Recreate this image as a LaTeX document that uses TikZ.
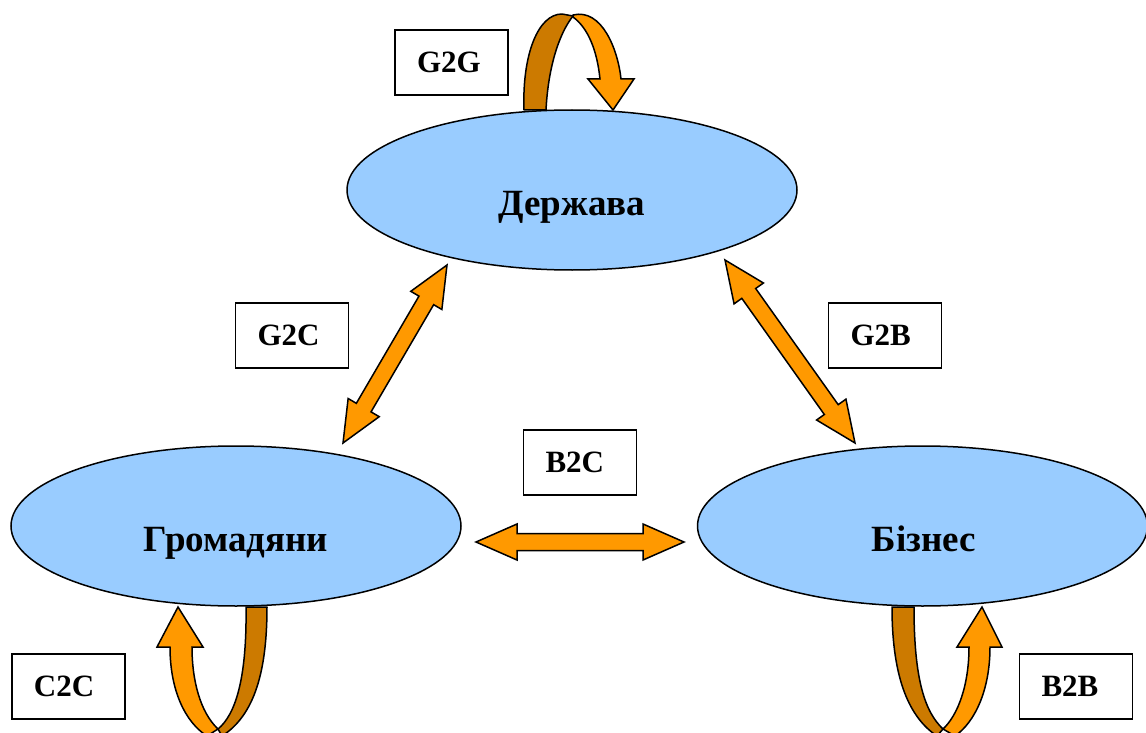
\documentclass[tikz,border=0pt]{standalone}
\usepackage{fontspec}
\setmainfont{Liberation Serif}
\usetikzlibrary{shapes.geometric,calc}
\definecolor{ellfill}{HTML}{99CCFF}
\definecolor{arrlight}{HTML}{FF9900}
\definecolor{arrdark}{HTML}{CC7A00}
\tikzset{
  ell/.style={ellipse, draw, fill=ellfill, line width=1.5pt, minimum width=450pt, minimum height=160pt, inner sep=0pt},
  etxt/.style={font=\fontsize{37}{41}\selectfont\bfseries, inner sep=0pt},
  lbox/.style={draw, fill=white, line width=1.7pt, minimum width=113pt, minimum height=65pt, inner sep=0pt, font=\fontsize{31}{34}\selectfont\bfseries},
  fatarrow/.style={draw, fill=arrlight, line width=1.5pt, line join=miter},
  loopdark/.style={draw, fill=arrdark, line width=1.5pt, line join=round},
  looplight/.style={draw, fill=arrlight, line width=1.5pt, line join=miter}
}
\newcommand\fatdbl[2]{%
  \coordinate (#1-#2-h1) at ($(#1)!41pt!(#2)$);
  \coordinate (#1-#2-h2) at ($(#2)!41pt!(#1)$);
  \draw[fatarrow] (#1)
    -- ($(#1-#2-h1)!18pt!90:(#2)$) -- ($(#1-#2-h1)!8.5pt!90:(#2)$)
    -- ($(#1-#2-h2)!8.5pt!-90:(#1)$) -- ($(#1-#2-h2)!18pt!-90:(#1)$)
    -- (#2)
    -- ($(#1-#2-h2)!18pt!90:(#1)$) -- ($(#1-#2-h2)!8.5pt!90:(#1)$)
    -- ($(#1-#2-h1)!8.5pt!-90:(#2)$) -- ($(#1-#2-h1)!18pt!-90:(#2)$)
    -- cycle;}
\begin{document}
\begin{tikzpicture}[x=1pt,y=-1pt]
\useasboundingbox (0,0) rectangle (1146,733);
\clip (0,0) rectangle (1146,733);

% ellipses
\node[ell] (derzhava) at (572,190) {};
\node[ell] (hromadyany) at (236,526) {};
\node[ell] (biznes) at (922.5,526) {};
\node[etxt, anchor=base] (derzhava-t) at (572,215) {Держава};
\node[etxt, anchor=base] (hromadyany-t) at (236,551) {Громадяни};
\node[etxt, anchor=base] (biznes-t) at (924,551) {Бізнес};

% G2G loop (top)
\draw[loopdark] (524,110) .. controls (522,55) and (538,14) .. (562,14)
  -- (573,16) .. controls (558,35) and (548,70) .. (546,110) -- cycle;
\draw[looplight] (573,15) .. controls (602,8) and (618,50) .. (621,79)
  -- (634,79) -- (613,110) -- (588,79) -- (600,79)
  .. controls (597,50) and (588,28) .. (573,17) -- cycle;

% C2C loop (bottom left)
\draw[looplight] (218,729) .. controls (200,712) and (192,680) .. (192,647)
  -- (203,647) -- (178,607) -- (157,647) -- (170,647)
  .. controls (170,690) and (185,722) .. (207,736) -- cycle;
\draw[loopdark] (246,607) .. controls (247,680) and (235,715) .. (218,729)
  -- (222,736) .. controls (255,715) and (267,670) .. (267,607) -- cycle;

% B2B loop (bottom right)
\draw[loopdark] (892,607) .. controls (892,680) and (910,718) .. (937,736)
  -- (943,729) .. controls (925,712) and (914,680) .. (914,607) -- cycle;
\draw[looplight] (943,729) .. controls (958,715) and (969,685) .. (969,647)
  -- (957,647) -- (982,607) -- (1002,647) -- (990,647)
  .. controls (990,690) and (975,722) .. (955,736) -- cycle;

% double arrows
\coordinate (g2c-a) at (447,265);
\coordinate (g2c-b) at (343,443);
\coordinate (g2b-a) at (725,260);
\coordinate (g2b-b) at (855,443);
\coordinate (b2c-a) at (476,542);
\coordinate (b2c-b) at (684,542);
\fatdbl{g2c-a}{g2c-b}
\fatdbl{g2b-a}{g2b-b}
\fatdbl{b2c-a}{b2c-b}

% labels
\node[lbox] (g2g) at (451.5,62.5) {\makebox[69pt][l]{G2G}};
\node[lbox] (g2c) at (292,335.5) {\makebox[69pt][l]{G2C}};
\node[lbox] (g2b) at (885,335.5) {\makebox[69pt][l]{G2B}};
\node[lbox] (b2c) at (580,462.5) {\makebox[69pt][l]{B2C}};
\node[lbox] (c2c) at (68.5,686.5) {\makebox[69pt][l]{C2C}};
\node[lbox] (b2b) at (1076,686.5) {\makebox[69pt][l]{B2B}};
\end{tikzpicture}
\end{document}
